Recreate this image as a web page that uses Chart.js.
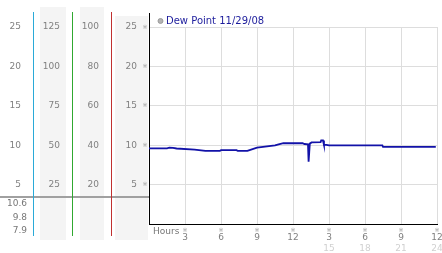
<!DOCTYPE html>
<html lang="en">
<head>
<meta charset="UTF-8">
<title>Dew Point 11/29/08</title>
<style>
  body { margin: 0; background: #fff; }
  #wrap { width: 442px; height: 253px; position: relative; }
</style>
</head>
<body>
<div id="wrap"><canvas id="dewChart"></canvas></div>
<script src="https://cdn.jsdelivr.net/npm/chart.js"></script>
<script>
// readings for the day (hour of day, dew point)
const seriesLabel = 'Dew Point 11/29/08';
const hours = [0, 1.5, 1.7, 2.0, 2.3, 3.8, 4.7, 5.9, 6.0, 7.3, 7.4, 8.2, 9.0, 9.5, 10.5, 10.8, 11.2,
  12.8, 12.95, 13.25, 13.3, 13.4, 13.55, 14.3, 14.35, 14.5, 14.58, 14.8, 15.0, 19.45, 19.5, 23.9];
const dewPoint = [9.6, 9.6, 9.68, 9.65, 9.58, 9.45, 9.27, 9.27, 9.37, 9.37, 9.27, 9.27, 9.7, 9.8, 9.97, 10.1, 10.25,
  10.25, 10.15, 10.1, 7.9, 10.2, 10.35, 10.4, 10.6, 10.6, 10.05, 10.05, 9.97, 9.97, 9.8, 9.8];
const summary = ['10.6', '9.8', '7.9'];   // max, avg, min
const scaleFactors = { yA: 1, yB: 5, yC: 4, y: 1 };
const panelColors = { yA: '#2aaad8', yB: '#30a830', yC: '#c03030' };

const FONT = 'DejaVu Sans';
const points = hours.map((h, i) => ({ x: h, y: dewPoint[i] }));

function sideAxis(key, weight, width) {
  return {
    position: 'left', weight: weight, min: 0, max: 25,
    grid: { display: false, drawTicks: false },
    border: { display: false },
    ticks: {
      stepSize: 5, padding: 12, color: '#808080', font: { family: FONT, size: 9 },
      callback: v => v === 0 ? '' : v * scaleFactors[key]
    },
    afterFit: s => { s.width = width; s.paddingTop = 0; s.paddingBottom = 0; }
  };
}

const panels = {
  id: 'panels',
  beforeDraw(chart) {
    const { ctx, chartArea: a, scales } = chart;
    ctx.save();
    ctx.fillStyle = '#f4f4f4';
    ctx.fillRect(scales.yB.left + 7, a.top - 20, scales.yB.width - 13, a.bottom - a.top + 36);
    ctx.fillRect(scales.yC.left + 8, a.top - 20, scales.yC.width - 15, a.bottom - a.top + 36);
    ctx.fillRect(scales.y.left + 4, a.top - 11, scales.y.width - 5, a.bottom - a.top + 27);
    ctx.restore();
  },
  afterDraw(chart) {
    const { ctx, chartArea: a, scales } = chart;
    ctx.save();
    // separator under the scale columns
    ctx.fillStyle = '#a0a0a0';
    ctx.fillRect(0, a.bottom - 28, a.left, 2);
    // coloured column rules
    for (const k of ['yA', 'yB', 'yC']) {
      ctx.fillStyle = panelColors[k];
      ctx.fillRect(Math.round(scales[k].right), a.top - 15, 1, a.bottom - a.top + 27);
    }
    // black axis reaches above the plot
    ctx.fillStyle = '#000';
    ctx.fillRect(Math.round(a.left), a.top - 14, 1, 14);
    // max / avg / min
    ctx.fillStyle = '#777';
    ctx.font = '9px ' + FONT;
    ctx.textAlign = 'right';
    ctx.textBaseline = 'middle';
    summary.forEach((s, i) => ctx.fillText(s, scales.yA.left + 27, a.bottom - 20 + i * 13.5));
    ctx.textAlign = 'left';
    ctx.fillText('Hours', a.left + 4, a.bottom + 8);
    // tick marks
    ctx.fillStyle = '#a0a0a0';
    ctx.font = '6px ' + FONT;
    ctx.textAlign = 'center';
    scales.y.ticks.forEach(t => {
      if (t.value > 0) ctx.fillText('\u203B', a.left - 4, scales.y.getPixelForValue(t.value));
    });
    scales.x.ticks.forEach(t => {
      if (t.value > 0) ctx.fillText('\u203B', scales.x.getPixelForValue(t.value), a.bottom + 6);
    });
    ctx.restore();
  }
};

new Chart(document.getElementById('dewChart'), {
  type: 'line',
  data: {
    datasets: [{
      label: seriesLabel,
      data: points,
      borderColor: '#1212a8',
      backgroundColor: '#b0b0b0',
      borderWidth: 1.8,
      pointRadius: 0,
      tension: 0
    }]
  },
  options: {
    responsive: true,
    maintainAspectRatio: false,
    animation: false,
    layout: { padding: { top: 5, right: 5, left: 0, bottom: 0 } },
    plugins: {
      tooltip: { enabled: false },
      legend: {
        position: 'top', align: 'start', fullSize: false, maxHeight: 22,
        labels: {
          usePointStyle: true, pointStyle: 'circle', boxWidth: 1, boxHeight: 3.5, padding: 11,
          color: '#1c1c9c', font: { family: FONT, size: 10 },
          generateLabels: c => Chart.defaults.plugins.legend.labels.generateLabels(c)
            .map(l => Object.assign(l, { fillStyle: '#b4b4b4', strokeStyle: '#999', lineWidth: 1 }))
        }
      }
    },
    scales: {
      x: {
        type: 'linear', position: 'bottom', weight: 0, min: 0, max: 24,
        grid: { color: '#dddddd', drawTicks: false },
        border: { color: '#000' },
        ticks: {
          stepSize: 3, padding: 8, maxRotation: 0, autoSkip: false,
          color: '#808080', font: { family: FONT, size: 9 },
          callback: v => v === 0 ? '' : (v > 12 ? v - 12 : v)
        },
        afterFit: s => { s.height = 19; s.paddingLeft = 0; s.paddingRight = 0; }
      },
      x2: {
        type: 'linear', position: 'bottom', weight: 1, min: 0, max: 24,
        grid: { display: false, drawTicks: false },
        border: { display: false },
        ticks: {
          stepSize: 3, padding: 0, maxRotation: 0, autoSkip: false,
          color: '#d0d0d0', font: { family: FONT, size: 9 },
          callback: v => v > 12 ? v : ''
        },
        afterFit: s => { s.height = 10; s.paddingLeft = 0; s.paddingRight = 0; }
      },
      yA: sideAxis('yA', 4, 33),
      yB: sideAxis('yB', 3, 39),
      yC: sideAxis('yC', 2, 39),
      y: Object.assign(sideAxis('y', 1, 38), {
        grid: { color: '#dddddd', drawTicks: false },
        border: { color: '#000' }
      })
    }
  },
  plugins: [panels]
});
</script>
</body>
</html>
